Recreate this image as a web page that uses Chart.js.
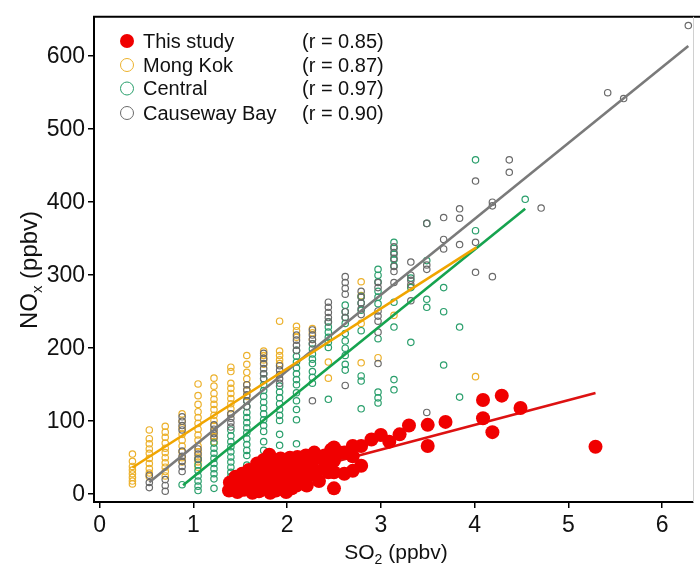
<!DOCTYPE html>
<html><head><meta charset="utf-8">
<script src="https://cdn.jsdelivr.net/npm/chart.js@4.4.1/dist/chart.umd.min.js"></script>
<style>html,body{margin:0;padding:0;background:#fff;overflow:hidden}#wrap{width:700px;height:572px}</style>
</head><body><div id="wrap"><canvas id="c" width="700" height="572"></canvas></div>
<script>
const xTicks = [0, 1, 2, 3, 4, 5, 6];
const yTicks = [0, 100, 200, 300, 400, 500, 600];
const seriesNames = ['This study', 'Mong Kok', 'Central', 'Causeway Bay'];
const rValues = ['(r = 0.85)', '(r = 0.87)', '(r = 0.97)', '(r = 0.90)'];
const xTitle = ['SO', '2', ' (ppbv)'];
const yTitle = ['NO', 'x', ' (ppbv)'];

// This study (SO2, NOx pairs)
const studySO2 = [1.38,1.39,1.42,1.45,1.47,1.49,1.52,1.54,1.57,1.59,1.61,1.63,1.65,1.66,1.68,1.70,1.72,1.73,1.75,1.76,1.78,1.80,1.81,1.82,1.84,1.85,1.87,1.88,1.90,1.91,1.93,1.94,1.96,1.97,1.99,2.00,2.01,2.03,2.05,2.07,2.08,2.10,2.11,2.13,2.15,2.17,2.19,2.20,2.21,2.23,2.26,2.29,2.31,2.34,2.36,2.40,2.41,2.44,2.47,2.50,2.50,2.50,2.50,2.56,2.61,2.61,2.70,2.70,2.70,2.79,2.79,2.90,3.00,3.09,3.20,3.30,3.50,3.50,3.69,4.09,4.09,4.19,4.29,4.49,5.29];
const studyNOx = [5,16,10,24,3,14,28,6,18,33,9,2,25,13,42,4,31,19,47,8,37,23,54,2,14,43,29,5,37,18,49,10,26,41,3,16,33,50,8,24,41,12,51,30,20,45,34,53,12,26,41,57,31,18,49,53,39,30,61,64,46,30,8,57,57,28,66,52,32,66,39,75,81,72,82,94,95,66,99,129,104,85,135,118,65];

// Mong Kok: SO2 column values and NOx values in each column
const mongKokSO2 = [0.35,0.53,0.70,0.88,1.05,1.22,1.40,1.57,1.75,1.92,2.10,2.27,2.44,2.79,2.97,3.14,3.32,4.01];
const mongKokNOx = [
 [55,45,38,33,28,23,18,14],
 [88,76,69,62,56,49,42,35,29,24],
 [93,85,78,70,63,57,50,43,37,31,25],
 [110,100,91,82,74,66,58,50,44],
 [151,135,123,113,105,97,89,81,74,66,58,51,44,37],
 [159,148,138,130,123,116,108,101,94,86,79,72],
 [174,168,152,145,138,131,124,117,110],
 [190,178,167,158,150,142,134],
 [196,190,184,178],
 [237,196,190,184,179],
 [230,224,215],
 [227,221,212],
 [181,159],
 [291,272,234,180],
 [187],
 [245],
 [284],
 [161]
];

// Central
const centralSO2 = [0.88,1.05,1.22,1.40,1.57,1.75,1.92,2.10,2.27,2.44,2.62,2.79,2.97,3.14,3.32,3.49,3.67,3.84,4.01,4.54];
const centralNOx = [
 [13],
 [48,40,32,25,18,11,5],
 [70,63,56,49,42,35,28,21,8],
 [88,80,72,65,58,51,44,37,30,24],
 [128,120,112,105,98,91,84,76,68,60,53,40,28],
 [165,158,150,142,134,126,118,110,102,94,86,72,60],
 [148,140,132,124,116,108,101,82,67],
 [197,189,181,173,165,157,150,139,128,116,102,69],
 [206,199,192,185,179,168,160,152],
 [236,229,222,215,208,201,130],
 [259,250,242,234,220,210,200,190,178,170],
 [271,262,252,224,162,155,117],
 [308,300,291,278,270,261,213,140,132,125],
 [345,337,329,321,313,263,229,157,143],
 [296,283,208],
 [371,320,267,256],
 [283,250,177],
 [229,133],
 [458,361],
 [404]
];

// Causeway Bay
const causewaySO2 = [0.53,0.70,0.88,1.05,1.22,1.40,1.57,1.75,1.92,2.10,2.27,2.44,2.62,2.79,2.97,3.14,3.32,3.49,3.67,3.84,4.01,4.19,4.37,4.71,5.42,5.59,6.28];
const causewayNOx = [
 [26,16,9],
 [20,12,4],
 [106,100,94,88,59,52,45,38,31],
 [62,55,48],
 [95,89,83,77],
 [110,104,98,92],
 [150,143,136,128,120],
 [193,186,179,172,165,158],
 [176,170,164,158,152],
 [218,211,204,197],
 [225,218,212,206,128],
 [263,256,249,242,236],
 [298,290,282,274,250,242,149],
 [278,270,262,254,246],
 [290,283,251,244,237,222,179],
 [339,331,323,312,305,290],
 [318,300,293,287,265],
 [371,314,308,112],
 [379,349,336],
 [391,378,342],
 [429,345,304],
 [400,395,298],
 [458,441],
 [392],
 [550],
 [542],
 [642]
];

// Linear fits (end points)
const fitStudySO2 = [1.38, 5.29];
const fitStudyNOx = [6, 138.5];
const fitMongKokSO2 = [0.35, 4.02];
const fitMongKokNOx = [36.6, 338.2];
const fitCentralSO2 = [0.89, 4.54];
const fitCentralNOx = [12.1, 391];
const fitCausewaySO2 = [0.53, 6.28];
const fitCausewayNOx = [16.5, 614];

const colors = {
  study: '#f00000', studyLine: '#dd1111',
  mk: '#ecb12c', mkLine: '#f0a500',
  cen: '#2a9f6c', cenLine: '#16a34f',
  cb: '#6a6a6a', cbLine: '#7a7a7a'
};

const pairs = (xs, ys) => xs.map((x, i) => ({x, y: ys[i]}));
const cols = (xs, yss) => xs.flatMap((x, i) => yss[i].map(y => ({x, y})));

const FONT = "'Liberation Sans', Arial, sans-serif";

const openPt = (label, data, col) => ({
  label, data, showLine: false, pointRadius: 3.2, pointHoverRadius: 3.2,
  pointBorderWidth: 1.2, borderColor: col, backgroundColor: 'rgba(0,0,0,0)'
});
const fitLine = (label, xs, ys, col) => ({
  label, data: pairs(xs, ys), showLine: true, pointRadius: 0, borderWidth: 2.6,
  borderColor: col, backgroundColor: col, fill: false, tension: 0
});

const datasets = [
  {label: seriesNames[0], data: pairs(studySO2, studyNOx), showLine: false, pointRadius: 7,
   pointHoverRadius: 7, pointBorderWidth: 0, backgroundColor: colors.study, borderColor: colors.study},
  fitLine('fit0', fitStudySO2, fitStudyNOx, colors.studyLine),
  fitLine('fit1', fitMongKokSO2, fitMongKokNOx, colors.mkLine),
  fitLine('fit2', fitCentralSO2, fitCentralNOx, colors.cenLine),
  fitLine('fit3', fitCausewaySO2, fitCausewayNOx, colors.cbLine),
  openPt(seriesNames[3], cols(causewaySO2, causewayNOx), colors.cb),
  openPt(seriesNames[2], cols(centralSO2, centralNOx), colors.cen),
  openPt(seriesNames[1], cols(mongKokSO2, mongKokNOx), colors.mk)
];

const deco = {
  id: 'deco',
  afterDraw(chart) {
    const {ctx, chartArea: a} = chart;
    ctx.save();
    // top frame line and faint right edge
    ctx.strokeStyle = '#000'; ctx.lineWidth = 2;
    ctx.beginPath(); ctx.moveTo(a.left - 1, a.top); ctx.lineTo(700, a.top); ctx.stroke();
    ctx.strokeStyle = '#d0d0d0'; ctx.lineWidth = 1;
    ctx.beginPath(); ctx.moveTo(a.right + 0.5, a.top); ctx.lineTo(a.right + 0.5, a.bottom); ctx.stroke();

    ctx.fillStyle = '#111'; ctx.textBaseline = 'alphabetic'; ctx.textAlign = 'left';
    // x title
    let big = `21px ${FONT}`, small = `14px ${FONT}`;
    ctx.font = big; const w0 = ctx.measureText(xTitle[0]).width, w2 = ctx.measureText(xTitle[2]).width;
    ctx.font = small; const w1 = ctx.measureText(xTitle[1]).width;
    let x = 396 - (w0 + w1 + w2) / 2, base = 559;
    ctx.font = big; ctx.fillText(xTitle[0], x, base); x += w0;
    ctx.font = small; ctx.fillText(xTitle[1], x, base + 5); x += w1;
    ctx.font = big; ctx.fillText(xTitle[2], x, base);

    // y title
    big = `24px ${FONT}`; small = `15px ${FONT}`;
    ctx.save();
    ctx.translate(37, 270); ctx.rotate(-Math.PI / 2);
    ctx.font = big; const v0 = ctx.measureText(yTitle[0]).width, v2 = ctx.measureText(yTitle[2]).width;
    ctx.font = small; const v1 = ctx.measureText(yTitle[1]).width;
    let u = -(v0 + v1 + v2) / 2;
    ctx.font = big; ctx.fillText(yTitle[0], u, 0); u += v0;
    ctx.font = small; ctx.fillText(yTitle[1], u, 5); u += v1;
    ctx.font = big; ctx.fillText(yTitle[2], u, 0);
    ctx.restore();

    // legend
    const rows = [41, 65, 88.5, 113];
    const mcol = [colors.study, colors.mk, colors.cen, colors.cb];
    ctx.font = `20px ${FONT}`; ctx.textBaseline = 'middle';
    for (let i = 0; i < 4; i++) {
      const y = rows[i];
      ctx.beginPath(); ctx.arc(127, y, i === 0 ? 7 : 6.5, 0, Math.PI * 2);
      if (i === 0) { ctx.fillStyle = mcol[i]; ctx.fill(); }
      else { ctx.strokeStyle = mcol[i]; ctx.lineWidth = 1; ctx.stroke(); }
      ctx.fillStyle = '#111';
      ctx.fillText(seriesNames[i], 143, y + 1);
      ctx.fillText(rValues[i], 302, y + 1);
    }
    ctx.restore();
  }
};

new Chart(document.getElementById('c'), {
  type: 'scatter',
  data: {datasets},
  options: {
    responsive: false, animation: false, devicePixelRatio: 1,
    layout: {padding: {top: 6, right: 2, left: 0, bottom: 0}},
    plugins: {legend: {display: false}, tooltip: {enabled: false}},
    scales: {
      x: {
        type: 'linear', min: -0.06, max: 6.33,
        afterBuildTicks: s => { s.ticks = xTicks.map(v => ({value: v})); },
        afterFit: s => { s.height = 70; },
        grid: {display: true, drawOnChartArea: false, drawTicks: true, tickLength: 6, color: '#000', lineWidth: 1.5},
        border: {display: true, color: '#000', width: 2},
        ticks: {font: {family: FONT, size: 23}, color: '#111', padding: 4, maxRotation: 0, autoSkip: false}
      },
      y: {
        type: 'linear', min: -10.7, max: 654,
        afterBuildTicks: s => { s.ticks = yTicks.map(v => ({value: v})); },
        afterFit: s => { s.width = 94; },
        grid: {display: true, drawOnChartArea: false, drawTicks: true, tickLength: 6, color: '#000', lineWidth: 1.5},
        border: {display: true, color: '#000', width: 2},
        ticks: {font: {family: FONT, size: 23}, color: '#111', padding: 3, autoSkip: false}
      }
    }
  },
  plugins: [deco]
});
</script>
</body></html>
